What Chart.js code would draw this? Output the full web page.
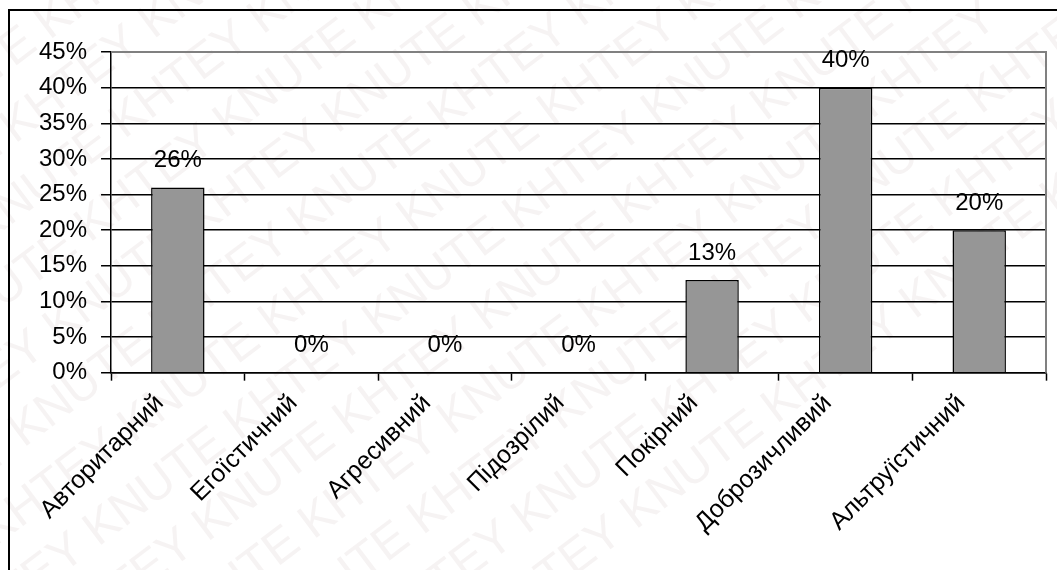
<!DOCTYPE html>
<html>
<head>
<meta charset="utf-8">
<script src="https://cdn.jsdelivr.net/npm/chart.js@4"></script>
<style>
  html, body { margin: 0; padding: 0; background: #fff; }
  #wrap { width: 1057px; height: 570px; position: relative; }
</style>
</head>
<body>
<div id="wrap"><canvas id="chart"></canvas></div>
<script>
let categories = ["Авторитарний", "Егоїстичний", "Агресивний", "Підозрілий", "Покірний", "Доброзичливий", "Альтруїстичний"];
let values = [26, 0, 0, 0, 13, 40, 20];
let yTicks = [0, 5, 10, 15, 20, 25, 30, 35, 40, 45];

let fontFamily = "'Liberation Sans', Arial, sans-serif";

// left + top frame lines and background watermark
const framePlugin = {
  id: "frame",
  beforeDraw(chart) {
    const ctx = chart.ctx;
    ctx.save();
    ctx.fillStyle = "#fff";
    ctx.fillRect(0, 0, chart.width, chart.height);
    ctx.font = "48px " + fontFamily;
    ctx.fillStyle = "rgba(190,170,170,0.14)";
    ctx.rotate(-37 * Math.PI / 180);
    for (let r = -8; r < 14; r++) {
      let txt = "KNUTE KHTEY KNUTE KHTEY KNUTE KHTEY KNUTE KHTEY";
      ctx.fillText(txt, -600 + (r % 2) * 90, r * 62);
    }
    ctx.restore();
  },
  afterDraw(chart) {
    const ctx = chart.ctx;
    ctx.save();
    ctx.strokeStyle = "#000";
    ctx.lineWidth = 2;
    ctx.beginPath();
    ctx.moveTo(9, chart.height);
    ctx.lineTo(9, 10);
    ctx.lineTo(chart.width, 10);
    ctx.stroke();
    ctx.restore();
  }
};

const plotBorder = {
  id: "plotBorder",
  beforeDatasetsDraw(chart) {
    const a = chart.chartArea;
    const ctx = chart.ctx;
    ctx.save();
    ctx.strokeStyle = "#808080";
    ctx.lineWidth = 2;
    ctx.beginPath();
    ctx.moveTo(a.left, a.top);
    ctx.lineTo(a.right, a.top);
    ctx.lineTo(a.right, a.bottom);
    ctx.stroke();
    ctx.restore();
  }
};

const valueLabels = {
  id: "valueLabels",
  afterDatasetsDraw(chart) {
    const ctx = chart.ctx;
    const meta = chart.getDatasetMeta(0);
    ctx.save();
    ctx.font = "24px " + fontFamily;
    ctx.fillStyle = "#000";
    ctx.textAlign = "center";
    ctx.textBaseline = "bottom";
    meta.data.forEach((bar, i) => {
      ctx.fillText(values[i] + "%", bar.x, bar.y - 15);
    });
    ctx.restore();
  }
};

new Chart("chart", {
  type: "bar",
  data: {
    labels: categories,
    datasets: [
      {
        data: values,
        backgroundColor: "#969696",
        borderColor: "#000",
        borderWidth: 1.5,
        categoryPercentage: 0.4,
        barPercentage: 1,
      },
    ],
  },
  options: {
    responsive: true,
    maintainAspectRatio: false,
    animation: false,
    layout: { padding: { left: 25, top: 52, right: 11, bottom: 24 } },
    plugins: {
      legend: { display: false },
      tooltip: { enabled: false },
    },
    scales: {
      x: {
        offset: true,
        afterFit: (scale) => {
          scale.paddingLeft = 0;
          scale.paddingRight = 0;
        },
        grid: {
          offset: true,
          drawOnChartArea: false,
          drawTicks: true,
          tickLength: 8,
          tickColor: "#000",
          tickWidth: 1.5,
        },
        border: { color: "#000", width: 1.5 },
        ticks: {
          color: "#000",
          font: { family: fontFamily, size: 25 },
          minRotation: 45,
          maxRotation: 45,
          padding: 8,
          labelOffset: -18,
          autoSkip: false,
        },
      },
      y: {
        min: yTicks[0],
        max: yTicks[yTicks.length - 1],
        grid: {
          color: (c) => (c.tick && c.tick.value === yTicks[yTicks.length - 1] ? "#808080" : "#000"),
          lineWidth: 1.5,
          tickLength: 10,
          tickColor: "#000",
        },
        border: { color: "#000", width: 1.5 },
        ticks: {
          stepSize: yTicks[1] - yTicks[0],
          color: "#000",
          padding: 14,
          font: { family: fontFamily, size: 24 },
          callback: (v) => v + "%",
        },
      },
    },
  },
  plugins: [framePlugin, plotBorder, valueLabels],
});
</script>
</body>
</html>
